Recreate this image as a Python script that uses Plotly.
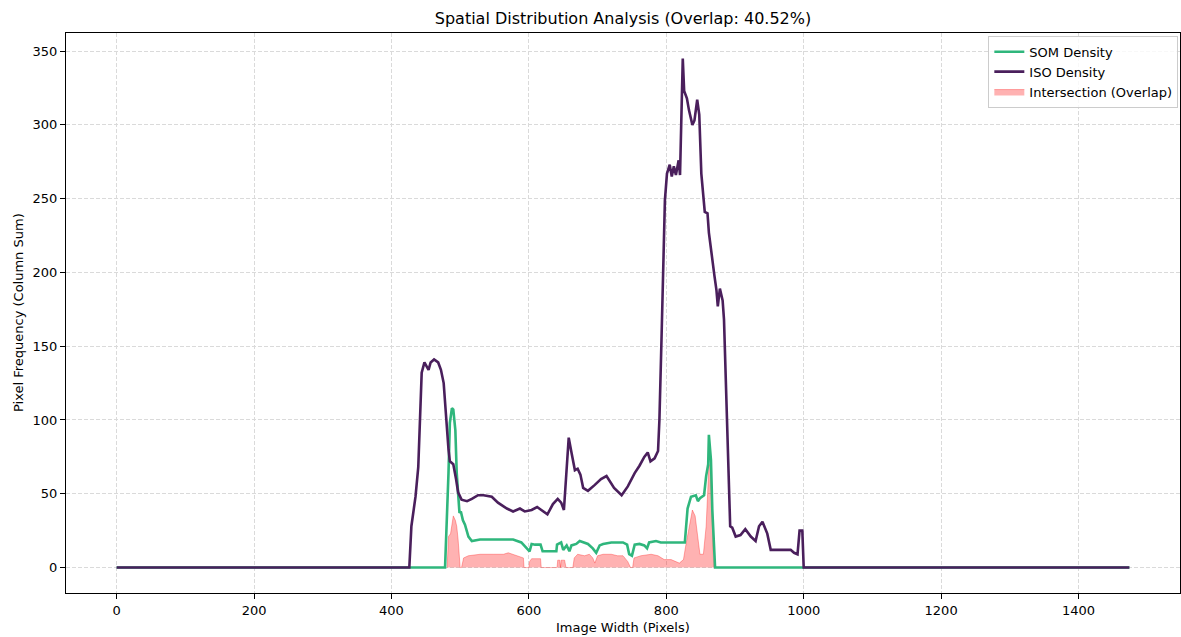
import plotly.graph_objects as go

# ---------------- data ----------------
iso_x = [0, 426, 429, 435, 439, 444, 448, 454, 457, 462, 468, 472, 476, 480, 483, 485, 490, 494, 497,
         502, 510, 517, 526, 534, 546, 555, 568, 577, 587, 594, 604, 612, 618, 627, 635, 642, 647, 651,
         654, 658, 662, 667, 671, 675, 679, 686, 696, 705, 713, 724, 735, 744, 754, 761, 768, 773, 777,
         783, 788, 790, 793, 798, 801, 805, 808, 811, 814, 818, 820, 824, 826, 830, 833, 836, 838, 841,
         845, 848, 851, 856, 860, 862, 866, 870, 873, 875, 878, 882, 884, 889, 893, 896, 901, 908, 915,
         923, 930, 935, 940, 947, 952, 981, 986, 991, 994, 998, 1000, 1474]
iso_y = [0, 0, 28, 48, 68, 132, 139, 134, 139, 141, 139, 134, 125, 98, 80, 72, 70, 60, 51,
         46, 45, 46.5, 49, 49, 48, 44, 40, 38, 40, 38, 39, 41, 39, 36, 43, 46.5, 44, 39,
         60, 88, 78, 66, 67, 63, 54, 52, 56, 60, 62, 54, 49, 55, 64, 69, 75, 78, 72,
         74, 79, 100, 154, 249, 267, 273, 265, 272, 266, 276, 266, 345, 323, 318, 310, 304, 300, 303,
         317, 307, 267, 241, 240, 227, 211, 198, 188, 177, 189, 181, 168, 96, 28, 27, 21, 22, 26,
         21, 18, 28, 31, 23, 12, 12, 10, 9, 25, 25, 0, 0]

som_x = [0, 478, 483, 485, 488, 490, 493, 495, 499, 501, 504, 507, 512, 517, 529, 543, 563, 577,
         589, 597, 601, 604, 609, 617, 620, 640, 641, 647, 650, 655, 659, 662, 669, 674, 680, 686,
         693, 698, 703, 708, 720, 737, 743, 746, 750, 754, 761, 768, 772, 775, 785, 792, 802, 816,
         827, 831, 836, 843, 846, 849, 855, 858, 861, 862, 865, 867, 871, 1474]
som_y = [0, 0, 64, 98, 108, 107, 93, 64, 37, 38, 32, 29, 21, 18, 19, 19, 19.5, 19,
         17, 13, 11, 16, 15.5, 15.5, 11, 11, 15.5, 17, 12, 15, 11, 15, 16, 18, 17, 16,
         13, 10, 15, 16, 17, 17, 15.5, 9, 8, 15.5, 16, 15, 13, 17, 18, 17, 17, 17,
         17, 40, 48, 49, 45, 47, 49, 62, 70, 90, 73, 39, 0, 0]

overlap_x = [481, 483, 486, 488, 490, 493, 495, 497, 500, 502, 505, 512, 529, 548, 563, 570, 584,
             592, 593, 600, 601, 604, 617, 618, 641, 642, 645, 646, 647, 652, 654, 664, 666, 671,
             681, 688, 693, 696, 700, 708, 720, 729, 737, 744, 748, 751, 753, 763, 778, 788, 797,
             807, 819, 825, 828, 833, 838, 842, 846, 849, 854, 858, 862, 864, 867, 869]
overlap_y = [0, 21, 23, 29, 35, 32, 28, 19, 0, 0, 6.5, 8, 9, 9, 9, 10, 8,
             6.5, 0, 0, 4, 6, 6, 0, 0, 5, 5, 0, 5, 5, 0, 0, 6.5, 9,
             8, 9, 6.5, 3, 8, 9, 9, 8, 8, 4, 0, 0, 6.5, 8, 9, 8, 5.4,
             5.4, 3, 5.4, 14, 26, 39, 35, 21, 9, 9, 28, 69, 70, 30, 0]

x_ticks = [0, 200, 400, 600, 800, 1000, 1200, 1400]
y_ticks = [0, 50, 100, 150, 200, 250, 300, 350]

title_text = "Spatial Distribution Analysis (Overlap: 40.52%)"
x_label = "Image Width (Pixels)"
y_label = "Pixel Frequency (Column Sum)"

# ---------------- figure ----------------
W, H = 1181, 637
L, R, T, B = 66, 1, 33, 44
FONT = "DejaVu Sans"

fig = go.Figure()

fig.add_trace(go.Scatter(
    x=overlap_x, y=overlap_y, mode="lines", fill="tozeroy",
    fillcolor="rgba(255,0,0,0.3)", line=dict(color="rgba(255,0,0,0.3)", width=1),
    name="Intersection (Overlap)", legendrank=3))
fig.add_trace(go.Scatter(
    x=som_x, y=som_y, mode="lines", line=dict(color="#2fb67c", width=2.6),
    name="SOM Density", legendrank=1))
fig.add_trace(go.Scatter(
    x=iso_x, y=iso_y, mode="lines", line=dict(color="#4a1f5c", width=2.6),
    name="ISO Density", legendrank=2))

axis_common = dict(
    showline=True, linecolor="black", linewidth=1, mirror=True,
    ticks="outside", ticklen=5, tickwidth=1, tickcolor="black",
    showgrid=True, gridcolor="#dadada", griddash="4px,2px", gridwidth=1,
    zeroline=False, tickfont=dict(family=FONT, size=13, color="black"),
)

fig.update_xaxes(range=[-73.7, 1547.7], tickvals=x_ticks, **axis_common)
fig.update_yaxes(range=[-17.25, 362.25], tickvals=y_ticks, **axis_common)

fig.update_layout(
    width=W, height=H,
    margin=dict(l=L, r=R, t=T, b=B, pad=0),
    paper_bgcolor="white", plot_bgcolor="white",
    font=dict(family=FONT, color="black"),
    title=dict(text=title_text, x=0.5, xref="paper", xanchor="center",
               y=1 - 18 / H, yref="container", yanchor="middle",
               font=dict(family=FONT, size=16, color="black")),
    showlegend=True,
    legend=dict(x=0.9985, xanchor="right", y=0.995, yanchor="top",
                bgcolor="rgba(255,255,255,0.8)", bordercolor="#cccccc", borderwidth=1,
                font=dict(family=FONT, size=13, color="black"),
                tracegroupgap=0, itemwidth=30),
    annotations=[
        dict(text=x_label, xref="paper", yref="paper", x=0.5, y=-(627 - (H - B)) / (H - T - B),
             xanchor="center", yanchor="middle", showarrow=False,
             font=dict(family=FONT, size=13, color="black")),
        dict(text=y_label, xref="paper", yref="paper", x=-(L - 18) / (W - L - R), y=0.5,
             xanchor="center", yanchor="middle", showarrow=False, textangle=-90,
             font=dict(family=FONT, size=13, color="black")),
    ],
)

fig.write_html("out.html", config={"displayModeBar": False},
               post_script="document.body.style.margin='0';document.body.style.overflow='hidden';")
